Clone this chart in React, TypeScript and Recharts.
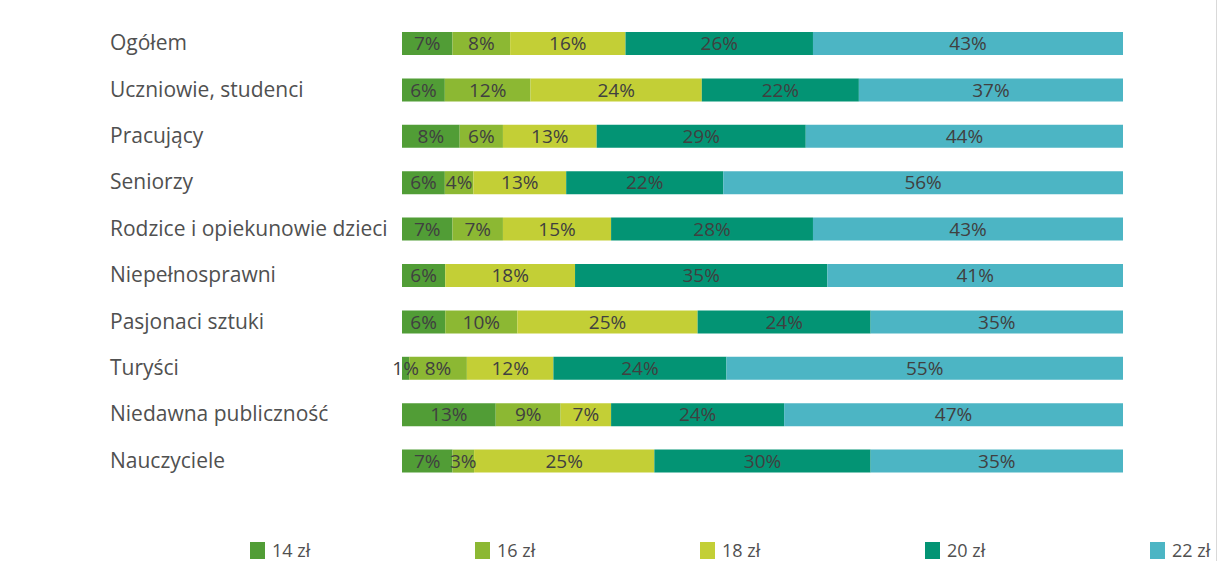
import React from "react";
import { BarChart, Bar, XAxis, YAxis, LabelList } from "recharts";

const categories = [
  "Ogółem",
  "Uczniowie, studenci",
  "Pracujący",
  "Seniorzy",
  "Rodzice i opiekunowie dzieci",
  "Niepełnosprawni",
  "Pasjonaci sztuki",
  "Turyści",
  "Niedawna publiczność",
  "Nauczyciele",
];
const seriesNames = ["14 zł", "16 zł", "18 zł", "20 zł", "22 zł"];
const v14 = [7, 6, 8, 6, 7, 6, 6, 1, 13, 7];
const v16 = [8, 12, 6, 4, 7, 0, 10, 8, 9, 3];
const v18 = [16, 24, 13, 13, 15, 18, 25, 12, 7, 25];
const v20 = [26, 22, 29, 22, 28, 35, 24, 24, 24, 30];
const v22 = [43, 37, 44, 56, 43, 41, 35, 55, 47, 35];
const colors = ["#519d36", "#8cb833", "#c3cf36", "#039474", "#4cb5c4"];

const seriesValues = [v14, v16, v18, v20, v22];
const keys = ["s0", "s1", "s2", "s3", "s4"];
const data = categories.map((c, i) => {
  const row: any = { name: c };
  keys.forEach((k, j) => (row[k] = seriesValues[j][i]));
  return row;
});

const FONT = "'Open Sans', Lato, sans-serif";
const TEXT = "#505050";

const CatTick = (props: any) => {
  const { y, payload } = props;
  return (
    <text x={110} y={y} dy={7} textAnchor="start" fontFamily={FONT} fontSize={21} fill={TEXT}>
      {payload.value}
    </text>
  );
};

export default function App() {
  return (
    <div style={{ position: "absolute", left: 0, top: 0, width: 1218, height: 561, background: "#fff", overflow: "hidden" }}>
      <BarChart
        width={1218}
        height={561}
        data={data}
        layout="vertical"
        stackOffset="expand"
        margin={{ top: 20, right: 95, bottom: 77, left: 0 }}
        barSize={23}
      >
        <XAxis type="number" hide domain={[0, 1]} />
        <YAxis
          type="category"
          dataKey="name"
          width={402}
          axisLine={false}
          tickLine={false}
          tick={<CatTick />}
          interval={0}
        />
        {keys.map((k, i) => (
          <Bar key={k} dataKey={k} stackId="a" fill={colors[i]} isAnimationActive={false}>
            <LabelList
              dataKey={k}
              position="center"
              formatter={(v: any) => (v ? `${v}%` : "")}
              style={{ fontFamily: FONT, fontSize: 19, fill: "#404040" }}
            />
          </Bar>
        ))}
      </BarChart>
      <div
        style={{
          position: "absolute",
          left: 250,
          top: 540,
          display: "flex",
          fontFamily: FONT,
          fontSize: 18,
          lineHeight: "20px",
          color: TEXT,
        }}
      >
        {seriesNames.map((n, i) => (
          <div key={n} style={{ width: 225, display: "flex", alignItems: "center" }}>
            <span style={{ display: "inline-block", width: 15, height: 17, background: colors[i], marginRight: 7 }} />
            <span>{n}</span>
          </div>
        ))}
      </div>
      <div style={{ position: "absolute", left: 1216, top: 0, width: 1, height: 561, background: "#d9d9d9" }} />
    </div>
  );
}
